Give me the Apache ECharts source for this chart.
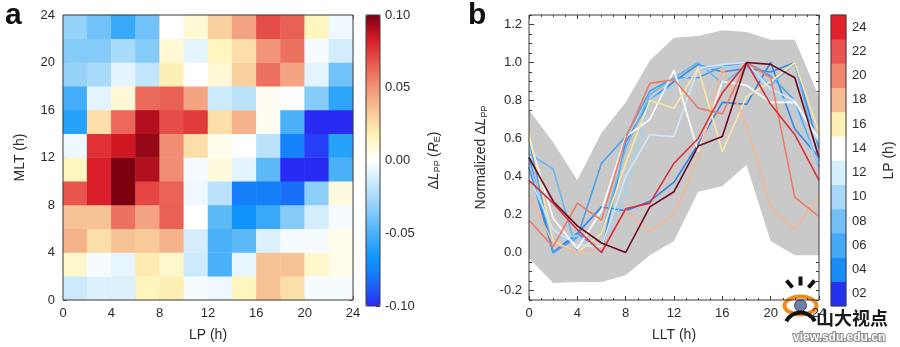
<!DOCTYPE html>
<html>
<head>
<meta charset="utf-8">
<script src="https://cdn.jsdelivr.net/npm/echarts@6/dist/echarts.min.js"></script>
<style>
  html, body { margin: 0; padding: 0; background: #ffffff; }
  #chart { width: 900px; height: 347px; }
</style>
</head>
<body>
<div id="chart"></div>
<script>
// ---------- Panel a: ΔL_PP binned by LP (columns) and MLT (rows) ----------
const lpBins = ['0-2','2-4','4-6','6-8','8-10','10-12','12-14','14-16','16-18','18-20','20-22','22-24'];
const mltBins = ['0-2','2-4','4-6','6-8','8-10','10-12','12-14','14-16','16-18','18-20','20-22','22-24'];
// rows: MLT 0-2 (first) ... 22-24 (last); columns: LP 0-2 ... 22-24
const dLpp = [
  [-0.015,-0.010,-0.010, 0.015, 0.018,-0.003,-0.005, 0.015, 0.035, 0.025,-0.003,-0.003],
  [ 0.012,-0.003,-0.007, 0.020, 0.012,-0.015,-0.050,-0.007, 0.035, 0.035, 0.012, 0.005],
  [ 0.040, 0.025, 0.035, 0.033, 0.040,-0.012,-0.050,-0.045,-0.010,-0.003,-0.003, 0.005],
  [ 0.035, 0.035, 0.060, 0.045, 0.065, 0.000,-0.045,-0.068,-0.055,-0.035,-0.013,-0.003],
  [ 0.068, 0.082, 0.100, 0.072, 0.064,-0.005,-0.020,-0.076,-0.076,-0.082,-0.033, 0.008],
  [ 0.015, 0.082, 0.100, 0.090, 0.052,-0.003, 0.008,-0.008,-0.045,-0.100,-0.100,-0.050],
  [-0.005, 0.077, 0.085, 0.095, 0.052, 0.025, 0.005, 0.000,-0.020,-0.075,-0.095,-0.060],
  [-0.060, 0.025, 0.063, 0.090, 0.070, 0.075, 0.025, 0.040, 0.003,-0.050,-0.100,-0.100],
  [-0.052,-0.008, 0.010, 0.062, 0.065, 0.045,-0.015,-0.020, 0.003, 0.000,-0.035,-0.058],
  [-0.030,-0.025,-0.008,-0.018, 0.018, 0.000, 0.010, 0.030, 0.060, 0.045,-0.008,-0.040],
  [-0.035,-0.035,-0.025,-0.035, 0.010,-0.008, 0.015, 0.025, 0.050, 0.060,-0.003,-0.013],
  [-0.030,-0.040,-0.055,-0.040, 0.000, 0.010, 0.030, 0.045, 0.070, 0.065, 0.015,-0.005]
];
const hourTicks = [0, 4, 8, 12, 16, 20, 24];

// ---------- Panel b: normalized ΔL_PP against LLT, one curve per LP ----------
const llt = [0, 2, 4, 6, 8, 10, 12, 14, 16, 18, 20, 22, 24];
const bandLow  = [-0.03,-0.16,-0.155,-0.155,-0.12,-0.015, 0.06, 0.32, 0.35, 0.46, 0.06,-0.015,-0.015];
const bandHigh = [ 0.75, 0.58, 0.38, 0.63, 0.79, 1.01, 1.13, 1.14, 1.17, 1.16, 1.12, 1.12, 0.82];
const lpLabels = ['02','04','06','08','10','12','14','16','18','20','22','24'];
const normLp02 = [0.45, 0.00, 0.10, 0.00, 0.58, 0.80, 0.90, 0.99, 0.95, 0.97, 0.95, 1.00, 0.55];
const normLp04 = [0.50, 0.00, 0.10, 0.24, 0.22, 0.27, 0.37, 0.57, 0.79, 0.78, 1.00, 0.65, 0.50];
const normLp06 = [0.60, 0.00, 0.08, 0.47, 0.61, 0.85, 0.92, 0.92, 0.98, 1.00, 0.93, 0.80, 0.45];
const normLp08 = [0.52, 0.44, 0.00, 0.10, 0.55, 0.83, 0.92, 1.00, 0.89, 0.98, 0.88, 1.00, 0.48];
const normLp10 = [0.47, 0.07, 0.09, 0.00, 0.32, 0.80, 0.88, 0.96, 0.98, 0.97, 0.86, 0.76, 0.46];
const normLp12 = [0.40, 0.12, 0.04, 0.03, 0.40, 0.62, 0.61, 0.97, 0.99, 1.00, 0.86, 0.80, 0.58];
const normLp14 = [0.60, 0.18, 0.02, 0.22, 0.61, 0.70, 0.96, 0.53, 0.90, 0.88, 0.79, 0.79, 0.60];
const normLp16 = [0.63, 0.06, 0.00, 0.10, 0.47, 0.80, 0.76, 0.97, 0.53, 0.82, 0.90, 1.00, 0.63];
const normLp18 = [0.30, 0.05, 0.00, 0.02, 0.22, 0.11, 0.20, 0.50, 0.97, 0.67, 0.24, 0.12, 0.30];
const normLp20 = [0.17, 0.03, 0.26, 0.17, 0.60, 0.89, 0.91, 0.76, 0.73, 1.00, 0.92, 0.29, 0.19];
const normLp22 = [0.38, 0.26, 0.12, 0.00, 0.23, 0.26, 0.47, 0.60, 0.84, 1.00, 0.78, 0.62, 0.38];
const normLp24 = [0.50, 0.27, 0.14, 0.05, 0.00, 0.24, 0.32, 0.56, 0.61, 1.00, 0.99, 0.92, 0.50];
const normTicks = [-0.2, 0.0, 0.2, 0.4, 0.6, 0.8, 1.0, 1.2];
const normMinorTicks = [-0.25,-0.2,-0.15,-0.1,-0.05,0,0.05,0.1,0.15,0.2,0.25,0.3,0.35,0.4,0.45,0.5,0.55,0.6,0.65,0.7,0.75,0.8,0.85,0.9,0.95,1.0,1.05,1.1,1.15,1.2,1.25];

// palettes
const divergingColors = ['#2a2af5','#1a6cf8','#0f98fc','#4ab0f8','#8acef8','#c6e8fc','#ffffff',
                         '#fff4b8','#f8c898','#f29478','#e85a50','#d81a26','#7a0010'];
const lpBarColors  = ['#2432ee','#1a8cf8','#46a8f6','#74c0f6','#a8d8f8','#d6effc','#ffffff',
                      '#fdf0b4','#f8bc94','#f08870','#ec5454','#e4202c'];
const lpLineColors = ['#3a8ee6','#2f88e8','#4aa2ee','#68b6f2','#9ed2f6','#cce8fa','#ffffff',
                      '#fae6a2','#f4b894','#ec7c6a','#d8303a','#6e0a1e'];
const normSeries = [normLp02, normLp04, normLp06, normLp08, normLp10, normLp12,
                    normLp14, normLp16, normLp18, normLp20, normLp22, normLp24];

const FONT = '"Liberation Sans", Arial, sans-serif';
const TXT = '#2b2b2b';
const AX = '#3a3a3a';

const chart = echarts.init(document.getElementById('chart'), null, { renderer: 'canvas' });

const heatData = [];
dLpp.forEach((row, yi) => row.forEach((v, xi) => heatData.push([xi, yi, v])));

const barData = lpLabels.map((lab, i) => ({ value: [0, i, 1], itemStyle: { color: lpBarColors[i] } }));

// envelope polygon: upper edge left to right, lower edge back
function renderBand(params, api) {
  if (params.dataIndex !== 0) return null;
  const pts = [];
  llt.forEach((x, i) => pts.push(api.coord([x, bandHigh[i]])));
  for (let i = llt.length - 1; i >= 0; i--) pts.push(api.coord([llt[i], bandLow[i]]));
  return { type: 'polygon', shape: { points: pts }, style: { fill: '#c9c9c9', stroke: 'none' }, silent: true };
}

function tickAxis(extra) {
  return Object.assign({
    axisLine: { show: false, onZero: false },
    axisTick: { show: true, inside: true, length: 4, lineStyle: { color: AX, width: 1 } },
    axisLabel: { show: false },
    splitLine: { show: false }
  }, extra);
}

const richName = {
  d: { fontSize: 14, color: TXT, fontFamily: FONT },
  i: { fontSize: 14, color: TXT, fontStyle: 'italic', fontFamily: FONT },
  s: { fontSize: 9, color: TXT, fontFamily: FONT, padding: [7, 0, 0, 0] }
};

const option = {
  animation: false,
  backgroundColor: '#ffffff',
  textStyle: { fontFamily: FONT },
  grid: [
    { left: 63, top: 15, width: 290, height: 291, show: true, borderColor: AX, borderWidth: 1, backgroundColor: 'transparent', z: 5 },
    { left: 366, top: 15, width: 14, height: 291, show: true, borderColor: AX, borderWidth: 1, backgroundColor: 'transparent', z: 8 },
    { left: 529, top: 15, width: 290, height: 291, show: true, borderColor: AX, borderWidth: 1, backgroundColor: 'transparent', z: 5 },
    { left: 831, top: 15, width: 15, height: 291, show: true, borderColor: AX, borderWidth: 1, backgroundColor: 'transparent', z: 5 }
  ],
  xAxis: [
    { type: 'category', gridIndex: 0, data: lpBins, show: false, boundaryGap: true },
    tickAxis({ type: 'value', gridIndex: 0, min: 0, max: 24, interval: 2, position: 'bottom',
      name: 'LP (h)', nameLocation: 'middle', nameGap: 28,
      nameTextStyle: { fontSize: 14, color: TXT, fontFamily: FONT },
      axisLabel: { show: true, fontSize: 13, color: TXT, margin: 7, fontFamily: FONT,
        formatter: v => hourTicks.indexOf(v) >= 0 ? String(v) : '' } }),
    tickAxis({ type: 'value', gridIndex: 0, min: 0, max: 24, interval: 2, position: 'top' }),
    { type: 'value', gridIndex: 1, show: false, min: 0, max: 1 },
    tickAxis({ type: 'value', gridIndex: 2, min: 0, max: 24, interval: 4, position: 'bottom',
      name: 'LLT (h)', nameLocation: 'middle', nameGap: 28,
      nameTextStyle: { fontSize: 14, color: TXT, fontFamily: FONT },
      minorTick: { show: true, splitNumber: 4, length: 2, lineStyle: { color: AX } },
      axisLabel: { show: true, fontSize: 13, color: TXT, margin: 7, fontFamily: FONT } }),
    tickAxis({ type: 'value', gridIndex: 2, min: 0, max: 24, interval: 4, position: 'top',
      minorTick: { show: true, splitNumber: 4, length: 2, lineStyle: { color: AX } } }),
    { type: 'category', gridIndex: 3, data: ['LP'], show: false }
  ],
  yAxis: [
    { type: 'category', gridIndex: 0, data: mltBins, show: false, boundaryGap: true },
    tickAxis({ type: 'value', gridIndex: 0, min: 0, max: 24, interval: 2, position: 'left',
      name: 'MLT (h)', nameLocation: 'middle', nameGap: 36, nameRotate: 90,
      nameTextStyle: { fontSize: 14, color: TXT, fontFamily: FONT },
      axisLabel: { show: true, fontSize: 13, color: TXT, margin: 8, fontFamily: FONT,
        formatter: v => hourTicks.indexOf(v) >= 0 ? String(v) : '' } }),
    tickAxis({ type: 'value', gridIndex: 0, min: 0, max: 24, interval: 2, position: 'right' }),
    tickAxis({ type: 'value', gridIndex: 1, min: -0.1, max: 0.1, interval: 0.05, position: 'right',
      axisTick: { show: true, inside: true, length: 4, lineStyle: { color: AX } },
      minorTick: { show: true, splitNumber: 4, length: 2, lineStyle: { color: AX } },
      name: '{d|Δ}{i|L}{s|PP} {d|(}{i|R}{s|E}{d|)}', nameLocation: 'middle', nameGap: 46, nameRotate: 90,
      nameTextStyle: { color: TXT, fontFamily: FONT, rich: richName },
      axisLabel: { show: true, fontSize: 13, color: TXT, margin: 5, fontFamily: FONT,
        formatter: v => (Math.abs(v) < 1e-9 ? 0 : v).toFixed(2) } }),
    tickAxis({ type: 'value', gridIndex: 2, min: -0.25, max: 1.25, position: 'left',
      axisTick: { show: true, inside: true, length: 5, customValues: normTicks, lineStyle: { color: AX } },
      name: 'Normalized {d|Δ}{i|L}{s|PP}', nameLocation: 'middle', nameGap: 40, nameRotate: 90,
      nameTextStyle: { fontSize: 14, color: TXT, fontFamily: FONT, rich: richName },
      axisLabel: { show: true, fontSize: 13, color: TXT, margin: 7, fontFamily: FONT, customValues: normTicks,
        formatter: v => (Math.abs(v) < 1e-9 ? 0 : v).toFixed(1) } }),
    tickAxis({ type: 'value', gridIndex: 2, min: -0.25, max: 1.25, position: 'left',
      axisTick: { show: true, inside: true, length: 3, customValues: normMinorTicks, lineStyle: { color: AX } } }),
    tickAxis({ type: 'value', gridIndex: 2, min: -0.25, max: 1.25, position: 'right',
      axisTick: { show: true, inside: true, length: 3, customValues: normMinorTicks, lineStyle: { color: AX } } }),
    { type: 'category', gridIndex: 3, data: lpLabels, position: 'right',
      axisLine: { show: false }, axisTick: { show: false }, splitLine: { show: false },
      name: 'LP (h)', nameLocation: 'middle', nameGap: 36, nameRotate: 90,
      nameTextStyle: { fontSize: 14, color: TXT, fontFamily: FONT },
      axisLabel: { show: true, fontSize: 13, color: TXT, margin: 6, fontFamily: FONT } }
  ],
  visualMap: [{
    type: 'continuous', seriesIndex: 0, min: -0.1, max: 0.1,
    left: 366, top: 15, itemWidth: 14, itemHeight: 291, padding: 0,
    calculable: false, showLabel: false, text: null, orient: 'vertical',
    inRange: { color: divergingColors }, z: 4
  }],
  series: [
    { type: 'heatmap', xAxisIndex: 0, yAxisIndex: 0, data: heatData,
      itemStyle: { borderWidth: 0 }, emphasis: { disabled: true }, progressive: 0 },
    // spread envelope of all curves
    { type: 'custom', xAxisIndex: 4, yAxisIndex: 4, data: llt.map((x, i) => [x, bandHigh[i]]),
      renderItem: renderBand, silent: true, z: 1, clip: true },
    // normalized curves
    ...normSeries.map((arr, k) => ({
      type: 'line', name: lpLabels[k], xAxisIndex: 4, yAxisIndex: 4,
      data: llt.map((x, i) => [x, arr[i]]), symbol: 'none', silent: true, z: 3,
      lineStyle: { color: lpLineColors[k], width: 1.6 }
    })),
    // LP colour key
    { type: 'heatmap', xAxisIndex: 6, yAxisIndex: 7, data: barData, silent: true,
      itemStyle: { borderWidth: 0 } }
  ],
  graphic: [
    { type: 'text', left: 5, top: 1, style: { text: 'a', font: 'bold 30px ' + FONT, fill: '#111' } },
    { type: 'text', left: 468, top: 1, style: { text: 'b', font: 'bold 30px ' + FONT, fill: '#111' } },
    // badge in the lower right corner
    { type: 'group', left: 782, top: 274, z: 100, children: [
      { type: 'line', shape: { x1: 17, y1: 0, x2: 17, y2: 9 }, style: { stroke: '#111', lineWidth: 4 } },
      { type: 'line', shape: { x1: 3, y1: 4, x2: 9, y2: 11 }, style: { stroke: '#111', lineWidth: 4 } },
      { type: 'line', shape: { x1: 31, y1: 4, x2: 25, y2: 11 }, style: { stroke: '#111', lineWidth: 4 } },
      { type: 'ellipse', shape: { cx: 17, cy: 29, rx: 16, ry: 9 }, style: { fill: 'none', stroke: '#f08a1c', lineWidth: 4 } },
      { type: 'circle', shape: { cx: 17, cy: 29, r: 6 }, style: { fill: '#6f7fa8', stroke: '#3c4a78', lineWidth: 1 } },
      { type: 'arc', shape: { cx: 17, cy: 52, r: 16, startAngle: Math.PI * 1.15, endAngle: Math.PI * 1.85 }, style: { stroke: '#111', lineWidth: 4, fill: 'none' } }
    ] },
    { type: 'text', left: 816, top: 309, z: 100, style: { text: '山大视点', font: 'bold 18px "Noto Sans CJK SC", sans-serif', fill: '#1a1a1a' } },
    { type: 'text', left: 792, top: 331, z: 100, style: { text: 'view.sdu.edu.cn', font: 'bold 12px ' + FONT, fill: '#ffffff', stroke: '#8a8a8a', lineWidth: 2 } }
  ]
};

chart.setOption(option);
</script>
</body>
</html>
